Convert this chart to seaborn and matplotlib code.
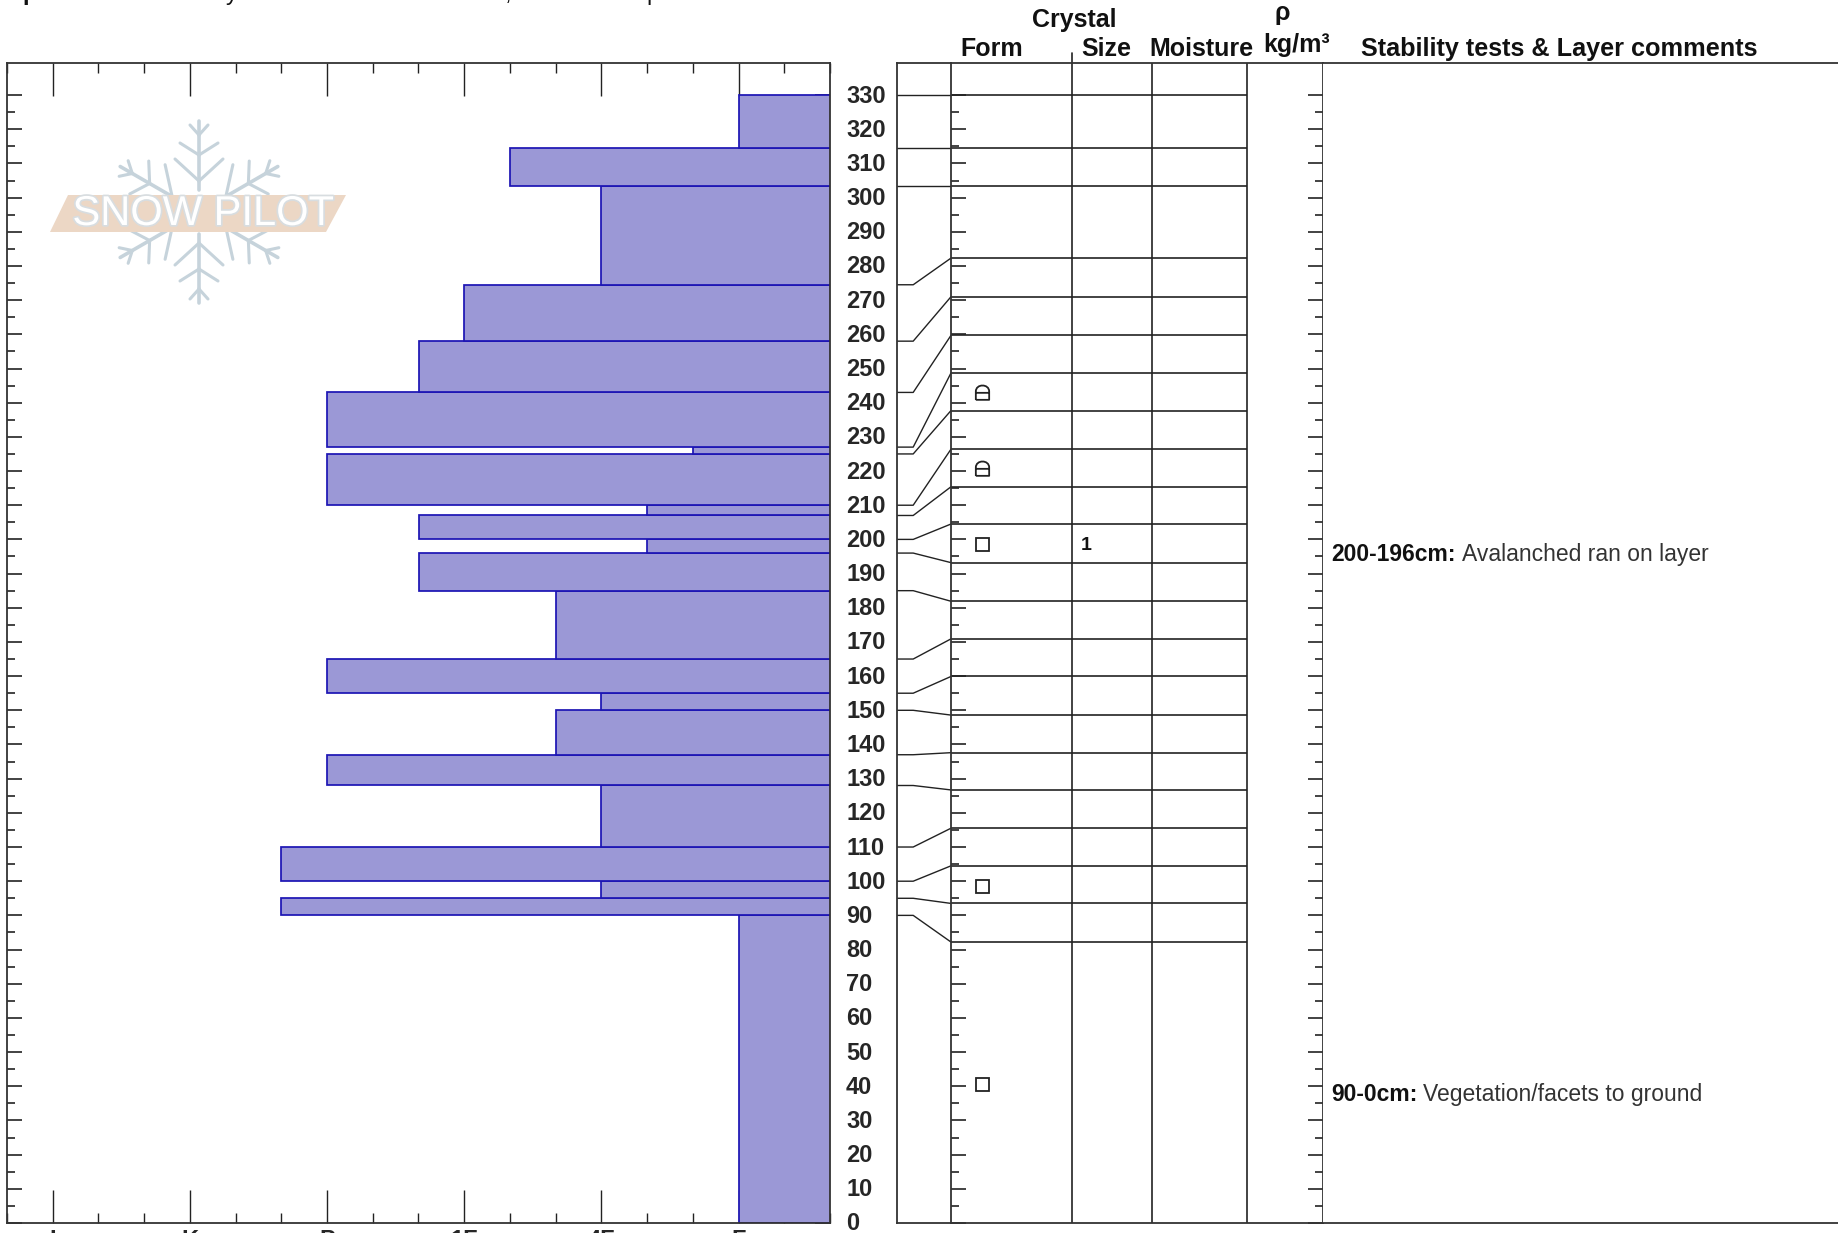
import numpy as np
import pandas as pd
import matplotlib
matplotlib.use('Agg')
import matplotlib.pyplot as plt
import matplotlib.patheffects as pe
from matplotlib.path import Path
from matplotlib.patches import Polygon
from matplotlib.transforms import ScaledTranslation
import seaborn as sns

# Snow layers, bottom to top (cm)
layer_edges = [0, 90, 95, 100, 110, 128, 137, 150, 155, 165, 185, 196, 200, 207, 210,
               225, 227, 243, 258, 274.5, 303.3, 314.5, 330]
# Hand hardness index per layer (F=1, 4F=2, 1F=3, P=4, K=5, I=6)
hardness = [1, 4.333, 2, 4.333, 2, 4, 2.333, 2, 4, 2.333, 3.333, 1.667, 3.333, 1.667, 4,
            1.333, 4, 3.333, 3, 2, 2.667, 1]
hardness_ticks = [1, 2, 3, 4, 5, 6]
hardness_labels = ['F', '4F', '1F', 'P', 'K', 'I']

# Same layer tops as drawn, spread out in the table
table_lines = [82.2, 93.5, 104.5, 115.5, 126.7, 137.6, 148.6, 159.9, 170.9, 181.9, 193.2, 204.5,
               215.4, 226.4, 237.7, 248.7, 259.7, 271, 282.3, 303.3, 314.5, 330]

form_square_y = [198.6, 98.5, 40.8]
form_facet_y = [242.9, 220.6]
size_y = [198.2]
size_labels = ['1']

comment_y = [195.6, 37.6]
comment_heads = ['200-196cm:', '90-0cm:']
comment_texts = ['Avalanched ran on layer', 'Vegetation/facets to ground']

W, H = 1838, 1233
TOP, BOTTOM = 63, 1223
YMAX = (BOTTOM - TOP) / 3.418
INK = '#222222'
BOLD = dict(fontweight='bold', color='#111111')


def px(n):
    return n * 72 / 100


def add_ax(x0, x1):
    return fig.add_axes([x0 / W, 1 - BOTTOM / H, (x1 - x0) / W, (BOTTOM - TOP) / H])


def head(x, y, s, size=18):
    fig.text(x / W, 1 - y / H, s, fontsize=size, va='baseline', **BOLD)


sns.set_style('ticks')
plt.rcParams['font.family'] = ['Liberation Sans', 'DejaVu Sans']
plt.rcParams['axes.edgecolor'] = '#333333'
plt.rcParams['axes.linewidth'] = 1.3

fig = plt.figure(figsize=(W / 100, H / 100), dpi=100)

# Hardness profile
ax = add_ax(7, 830)
edges = np.array(layer_edges, dtype=float)
df = pd.DataFrame({'mid': (edges[:-1] + edges[1:]) / 2, 'hardness': hardness})
sns.histplot(data=df, y='mid', weights='hardness', bins=layer_edges, color='#9b98d6',
             edgecolor='#1c14b4', linewidth=1.25, alpha=1, ax=ax)
ax.set_xlim(6.333, 0.333)
ax.set_ylim(0, YMAX)
ax.set_xlabel('')
ax.set_ylabel('')
ax.set_xticks(hardness_ticks, hardness_labels, fontsize=17, fontweight='bold')
ax.set_xticks(np.arange(1, 20) / 3, minor=True)
ax.set_yticks(np.arange(0, 331, 10))
ax.set_yticks(np.arange(5, 330, 10), minor=True)
ax.tick_params(axis='x', which='major', direction='in', top=True, bottom=True, length=px(33),
               width=1, pad=px(6), color=INK)
ax.tick_params(axis='x', which='minor', direction='in', top=True, bottom=True, length=px(10),
               width=1, color=INK)
ax.tick_params(axis='y', which='major', direction='in', left=True, right=True, labelleft=False,
               labelright=True, length=px(15), width=1.2, pad=px(16), color=INK, labelsize=17)
ax.tick_params(axis='y', which='minor', direction='in', left=True, right=True, length=px(8),
               width=1.2, color=INK)
up = ScaledTranslation(0, px(1.5) / 72, fig.dpi_scale_trans)
for lab in ax.get_yticklabels():
    lab.set_fontweight('bold')
    lab.set_transform(lab.get_transform() + up)

# Connectors between the profile and the table
ax_join = add_ax(897, 951)
ax_join.set_xlim(0, 1)
ax_join.set_ylim(0, YMAX)
for b, t in zip(layer_edges[1:], table_lines):
    ax_join.plot([0, 0.3, 1], [b, b, t], color=INK, lw=1)
ax_join.set_xticks([])
ax_join.set_yticks([])
ax_join.spines['right'].set_visible(False)

# Grain table
ax_table = add_ax(951, 1323)
ax_table.set_xlim(951, 1323)
ax_table.set_ylim(0, YMAX)
col_x = [1072, 1152, 1247]
ax_table.vlines(col_x, 0, YMAX, color=INK, lw=1.2)
ax_table.hlines(table_lines, 951, col_x[-1], color=INK, lw=1.2)
ax_table.plot([col_x[0], col_x[0]], [YMAX, YMAX + 3], color=INK, lw=1.2, clip_on=False)
ax_table.set_xticks([])
ax_table.set_yticks(np.arange(0, 331, 10))
ax_table.set_yticks(np.arange(5, 330, 10), minor=True)
ax_table.tick_params(axis='y', which='major', direction='in', left=True, right=True, labelleft=False,
                     length=px(15), width=1.2, color=INK)
ax_table.tick_params(axis='y', which='minor', direction='in', left=True, right=True, length=px(8),
                     width=1.2, color=INK)

# Rounded facets symbol: box with an arched top and a bar across it
arch = Path([(-1, -0.95), (1, -0.95), (1, 0.3), (1, 1.5), (-1, 1.5), (-1, 0.3), (-1, -0.95),
             (-1, 0.1), (1, 0.1)],
            [Path.MOVETO, Path.LINETO, Path.LINETO, Path.CURVE4, Path.CURVE4, Path.CURVE4, Path.LINETO,
             Path.MOVETO, Path.LINETO])
ax_table.plot([982] * len(form_square_y), form_square_y, ls='', marker='s', ms=px(13), mfc='none',
              mec=INK, mew=1.3)
ax_table.plot([982] * len(form_facet_y), form_facet_y, ls='', marker=arch, ms=px(20), mfc='none',
              mec=INK, mew=1.3)
for y, s in zip(size_y, size_labels):
    ax_table.text(1086, y, s, fontsize=14, ha='center', va='center', **BOLD)

# Comments column
ax_text = add_ax(1323, W + 5)
ax_text.set_xlim(1323, W + 5)
ax_text.set_ylim(0, YMAX)
ax_text.set_xticks([])
ax_text.set_yticks([])
for side in ['left', 'right']:
    ax_text.spines[side].set_visible(False)
for y, h, t in zip(comment_y, comment_heads, comment_texts):
    lab = ax_text.text(1331, y, h, fontsize=16.5, va='center', **BOLD)
    ax_text.annotate(t, xy=(1, 0), xycoords=lab, xytext=(px(6), 0), textcoords='offset points',
                     fontsize=16.5, color='#333333', va='bottom')

# Column headers
head(1032, 27, 'Crystal')
head(960, 56, 'Form')
head(1081, 56, 'Size')
head(1149, 56, 'Moisture')
head(1274, 20, 'ρ')
head(1263, 52, 'kg/m³')
head(1361, 56, 'Stability tests & Layer comments', size=18.2)

# Title line is cut off by the top of the image, only the descenders remain
fig.text(22 / W, 1.0, 'p', fontsize=17, va='baseline', **BOLD)
for x, s in zip([226, 505, 646], ['y', ',', 'p']):
    fig.text(x / W, 1.0, s, fontsize=17, va='baseline', color='#111111')

# Snow Pilot watermark
mark = fig.add_axes([0, 0, 1, 1], zorder=5)
mark.set_xlim(0, W)
mark.set_ylim(H, 0)
mark.axis('off')
mark.patch.set_alpha(0)
cx, cy = 199, 212
flake = '#c6d3db'
for ang in range(30, 360, 60):
    a = np.radians(ang)
    d = np.array([np.cos(a), -np.sin(a)])
    n = np.array([-d[1], d[0]])
    mark.plot(*zip(d * 22 + (cx, cy), d * 91 + (cx, cy)), color=flake, lw=2.6, solid_capstyle='round')
    for r, out, side in [(77, 10, 9), (57, 12, 19), (31, 22, 24)]:
        base = d * r + (cx, cy)
        for sgn in (-1, 1):
            mark.plot(*zip(base, base + d * out + n * side * sgn), color=flake, lw=2.2,
                      solid_capstyle='round')
mark.add_patch(Polygon([(68, 195), (346, 195), (326, 232), (50, 232)], fc='#ecd7c5', ec='none', zorder=3))
mark.text(203, 214, 'SNOW PILOT', fontsize=30, color='white', ha='center', va='center', zorder=4,
          path_effects=[pe.withStroke(linewidth=2.5, foreground='#d8dde0')])

fig.savefig('out.png', dpi=100)
